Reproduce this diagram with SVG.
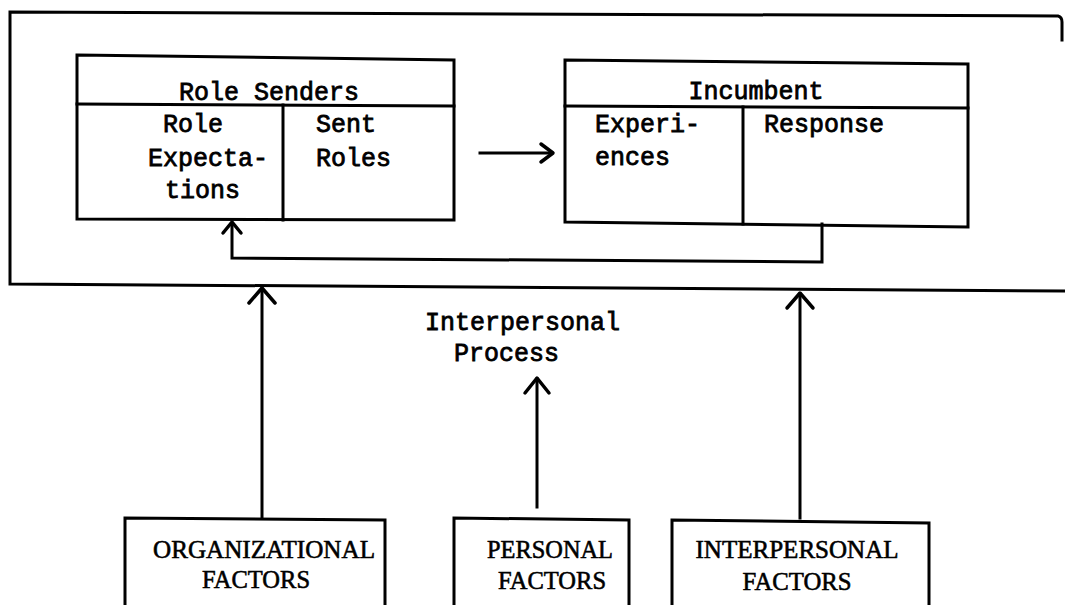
<svg xmlns="http://www.w3.org/2000/svg" width="1065" height="605" viewBox="0 0 1065 605">
<defs>
<style>
.ln{fill:none;stroke:#000;stroke-width:3;stroke-linecap:square;stroke-linejoin:miter}
.mono{font-family:"Liberation Mono","Courier New",monospace;font-size:25px;fill:#000;stroke:#000;stroke-width:0.8}
.ser{font-family:"Liberation Serif","Times New Roman",serif;font-size:26px;fill:#000;stroke:#000;stroke-width:0.6}
.head{fill:none;stroke:#000;stroke-width:3.5;stroke-linecap:round;stroke-linejoin:round}
</style>
</defs>
<rect width="1065" height="605" fill="#fff"/>
<g id="outer-frame">
<path class="ln" d="M1065 291 L10 284 L10 12 L1058 16 Q1062 17 1062 22 L1062 40"/>
</g>
<g id="role-senders">
<path class="ln" d="M77 55 L454 60 L454 220 L77 219 Z"/>
<path class="ln" d="M77 104 L454 106"/>
<path class="ln" d="M283 105 L283 220"/>
<text class="mono" x="269" y="100" text-anchor="middle">Role Senders</text>
<text class="mono" x="163" y="132">Role</text>
<text class="mono" x="148" y="166">Expecta-</text>
<text class="mono" x="165" y="198">tions</text>
<text class="mono" x="316" y="132">Sent</text>
<text class="mono" x="316" y="166">Roles</text>
</g>
<g id="incumbent">
<path class="ln" d="M565 60 L968 64 L968 227 L565 222 Z"/>
<path class="ln" d="M565 106 L968 108"/>
<path class="ln" d="M743 107 L743 224"/>
<text class="mono" x="756" y="99" text-anchor="middle">Incumbent</text>
<text class="mono" x="595" y="132">Experi-</text>
<text class="mono" x="595" y="165">ences</text>
<text class="mono" x="764" y="132">Response</text>
</g>
<g id="interpersonal-process">
<text class="mono" x="425" y="330">Interpersonal</text>
<text class="mono" x="454" y="361">Process</text>
</g>
<g id="organizational-factors">
<path class="ln" d="M125 605 L125 518 L385 520 L385 605"/>
<text class="ser" x="264" y="558" text-anchor="middle" textLength="222" lengthAdjust="spacingAndGlyphs">ORGANIZATIONAL</text>
<text class="ser" x="256" y="588" text-anchor="middle" textLength="108" lengthAdjust="spacingAndGlyphs">FACTORS</text>
</g>
<g id="personal-factors">
<path class="ln" d="M454 605 L454 518 L629 520 L629 605"/>
<text class="ser" x="550" y="558" text-anchor="middle" textLength="126" lengthAdjust="spacingAndGlyphs">PERSONAL</text>
<text class="ser" x="552" y="589" text-anchor="middle" textLength="108" lengthAdjust="spacingAndGlyphs">FACTORS</text>
</g>
<g id="interpersonal-factors">
<path class="ln" d="M672 605 L672 520 L929 523 L929 605"/>
<text class="ser" x="797" y="558" text-anchor="middle" textLength="203" lengthAdjust="spacingAndGlyphs">INTERPERSONAL</text>
<text class="ser" x="797" y="590" text-anchor="middle" textLength="109" lengthAdjust="spacingAndGlyphs">FACTORS</text>
</g>
<g id="connectors">
<path class="ln" d="M480 153 L551 153"/>
<path class="head" d="M541 144 L553 153 L541 162"/>
<path class="ln" d="M822 224 L822 262 L232 258 L232 224"/>
<path class="head" d="M223 233 L232 222 L241 233"/>
<path class="ln" d="M262 517 L262 289"/>
<path class="head" d="M249 303 L262 288 L275 303"/>
<path class="ln" d="M537 507 L537 379"/>
<path class="head" d="M525 393 L537 378 L549 393"/>
<path class="ln" d="M800 518 L800 294"/>
<path class="head" d="M787 308 L800 293 L813 308"/>
</g>
</svg>
